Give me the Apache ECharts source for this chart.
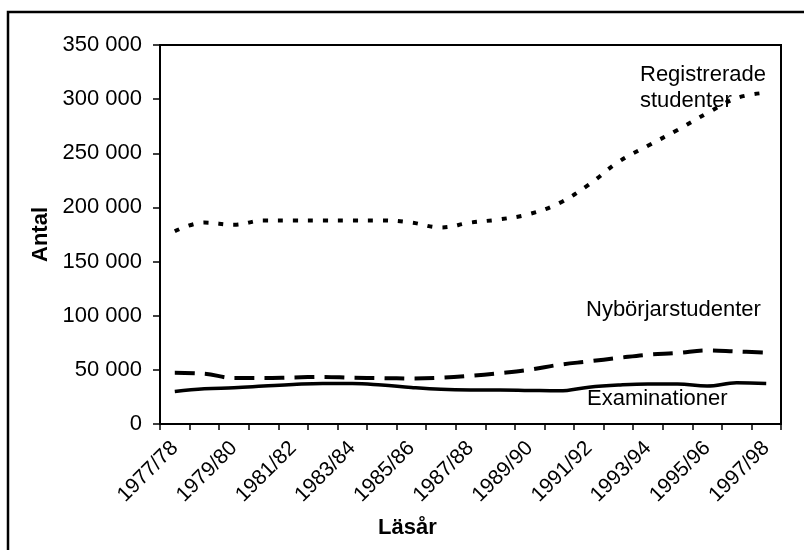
<!DOCTYPE html>
<html>
<head>
<meta charset="utf-8">
<script src="https://cdn.jsdelivr.net/npm/echarts@6/dist/echarts.min.js"></script>
<style>
html,body{margin:0;padding:0;background:#fff;}
#chart{width:804px;height:550px;}
</style>
</head>
<body>
<div id="chart"></div>
<script>
var years = ['1977/78','1978/79','1979/80','1980/81','1981/82','1982/83','1983/84','1984/85','1985/86','1986/87',
    '1987/88','1988/89','1989/90','1990/91','1991/92','1992/93','1993/94','1994/95','1995/96','1996/97','1997/98'];
var registrerade = [178000,186000,184000,188000,188000,188000,188000,188000,186000,181500,
    186000,189000,194000,204000,221000,242000,257000,271500,287000,301000,306000];
var nyborjare = [47300,46500,42400,42400,43000,43500,42700,42400,42000,42700,
    44500,47000,50100,54700,57800,61000,64000,65600,68000,67000,66000];
var examinationer = [30000,32500,33500,35000,36500,37500,37500,36000,33700,32000,
    31500,31500,31000,30600,34000,36000,37000,37000,35000,38000,37500];
var yTicks = [0,50000,100000,150000,200000,250000,300000,350000];

var font = '"Liberation Sans", Arial, sans-serif';

function fmt(v) {
    return String(v).replace(/\B(?=(\d{3})+(?!\d))/g, ' ');
}

function label(text, x, y, bold) {
    return {
        type: 'text', left: x, top: y,
        style: {text: text, font: (bold ? 'bold ' : '') + '22px ' + font, fill: '#000', lineHeight: 26}
    };
}

var myChart = echarts.init(document.getElementById('chart'));
var option = {
    animation: false,
    backgroundColor: '#fff',
    grid: {left: 160, top: 45, right: 23, bottom: 126, show: true, borderColor: '#000', borderWidth: 2},
    xAxis: {
        type: 'category',
        data: years,
        boundaryGap: true,
        axisLine: {lineStyle: {color: '#000', width: 2}},
        axisTick: {show: true, length: 6, lineStyle: {color: '#000', width: 1.5}, interval: 0},
        axisLabel: {interval: 1, rotate: 45, color: '#000', fontSize: 21, fontFamily: font, margin: 21}
    },
    yAxis: {
        type: 'value',
        min: yTicks[0],
        max: yTicks[yTicks.length - 1],
        interval: yTicks[1] - yTicks[0],
        name: 'Antal',
        nameLocation: 'middle',
        nameRotate: 90,
        nameGap: 106,
        nameTextStyle: {color: '#000', fontSize: 22, fontWeight: 'bold', fontFamily: font},
        axisLine: {show: true, lineStyle: {color: '#000', width: 2}},
        axisTick: {show: true, length: 7, lineStyle: {color: '#000', width: 1.5}},
        axisLabel: {color: '#000', fontSize: 22, fontFamily: font, margin: 18, formatter: fmt},
        splitLine: {show: false}
    },
    series: [
        {
            name: 'Registrerade studenter', type: 'line', data: registrerade,
            smooth: 0.4, symbol: 'none',
            lineStyle: {color: '#000', width: 4, type: [5, 10]}
        },
        {
            name: 'Nybörjarstudenter', type: 'line', data: nyborjare,
            smooth: 0.4, symbol: 'none',
            lineStyle: {color: '#000', width: 4, type: [20, 10]}
        },
        {
            name: 'Examinationer', type: 'line', data: examinationer,
            smooth: 0.4, symbol: 'none',
            lineStyle: {color: '#000', width: 3.5}
        }
    ],
    graphic: [
        {type: 'rect', shape: {x: 8, y: 12, width: 820, height: 560}, style: {fill: 'none', stroke: '#000', lineWidth: 2.5}},
        label('Registrerade\nstudenter', 640, 62, false),
        label('Nybörjarstudenter', 586, 297, false),
        label('Examinationer', 587, 386, false),
        label('Läsår', 378, 515, true)
    ]
};
myChart.setOption(option);
</script>
</body>
</html>
